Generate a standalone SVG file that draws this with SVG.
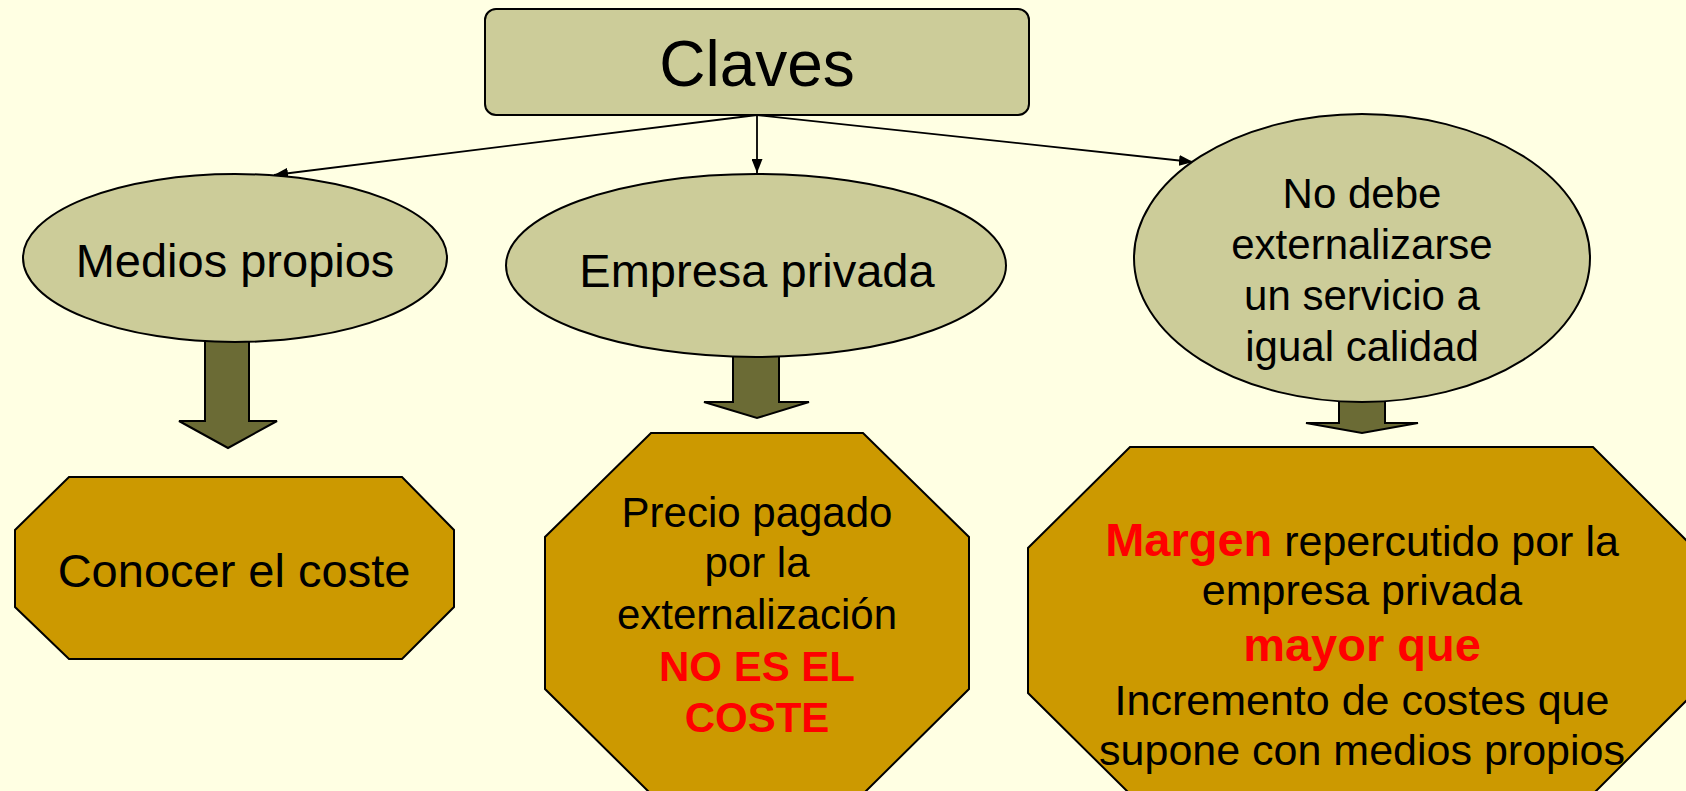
<svg xmlns="http://www.w3.org/2000/svg" width="1686" height="791" viewBox="0 0 1686 791">
<defs>
<marker id="ah" markerUnits="userSpaceOnUse" markerWidth="15" markerHeight="11" refX="14" refY="5.5" orient="auto">
<path d="M0,0 L14,5.5 L0,11 z" fill="#000"/>
</marker>
<style>
.t{font-family:"Liberation Sans",Arial,sans-serif;fill:#000;text-anchor:middle}
.r{fill:#FF0000;font-weight:bold}
.oval{fill:#CCCC99;stroke:#000;stroke-width:2}
.oct{fill:#CC9900;stroke:#000;stroke-width:2}
.blk{fill:#6B6B35;stroke:#000;stroke-width:2}
.con{stroke:#000;stroke-width:1.8;fill:none;marker-end:url(#ah)}
</style>
</defs>
<rect width="1686" height="791" fill="#FFFFE3"/>

<g id="connectors">
<line class="con" x1="757" y1="115" x2="274" y2="175"/>
<line class="con" x1="757" y1="115" x2="757" y2="173"/>
<line class="con" x1="757" y1="115" x2="1193" y2="162"/>
<polygon class="blk" points="205,335 249,335 249,421 277,421 228,448 179,421 205,421"/>
<polygon class="blk" points="733,350 779,350 779,402 809,402 757,418 704,402 733,402"/>
<polygon class="blk" points="1339,395 1385,395 1385,423 1418,423 1362,433 1306,423 1339,423"/>
</g>

<g id="claves">
<rect x="485" y="9" width="544" height="106" rx="11" fill="#CCCC99" stroke="#000" stroke-width="2"/>
<text class="t" x="757" y="86" font-size="64">Claves</text>
</g>

<g id="medios">
<ellipse class="oval" cx="235" cy="258" rx="212" ry="84"/>
<text class="t" x="235" y="277" font-size="47">Medios propios</text>
</g>

<g id="empresa">
<ellipse class="oval" cx="756" cy="265.5" rx="250" ry="91.5"/>
<text class="t" x="757" y="287" font-size="47">Empresa privada</text>
</g>

<g id="nodebe">
<ellipse class="oval" cx="1362" cy="258" rx="228" ry="144"/>
<text class="t" x="1362" y="208" font-size="42">No debe</text>
<text class="t" x="1362" y="259" font-size="42">externalizarse</text>
<text class="t" x="1362" y="310" font-size="42">un servicio a</text>
<text class="t" x="1362" y="361" font-size="42">igual calidad</text>
</g>

<g id="conocer">
<polygon class="oct" points="69,477 402,477 454,530 454,607 402,659 69,659 15,607 15,530"/>
<text class="t" x="234" y="587" font-size="47">Conocer el coste</text>
</g>

<g id="precio">
<polygon class="oct" points="651,433 863,433 969,537 969,689 863,794 651,794 545,689 545,537"/>
<text class="t" x="757" y="527" font-size="42">Precio pagado</text>
<text class="t" x="757" y="577" font-size="42">por la</text>
<text class="t" x="757" y="629" font-size="42">externalización</text>
<text class="t r" x="757" y="681" font-size="42">NO ES EL</text>
<text class="t r" x="757" y="732" font-size="42">COSTE</text>
</g>

<g id="margen">
<polygon class="oct" points="1130,447 1593,447 1694,548 1694,693 1593,794 1130,794 1028,693 1028,548"/>
<text class="t" x="1362" y="556" font-size="43"><tspan class="r" font-size="47">Margen</tspan> repercutido por la</text>
<text class="t" x="1362" y="605" font-size="43">empresa privada</text>
<text class="t r" x="1362" y="661" font-size="47">mayor que</text>
<text class="t" x="1362" y="715" font-size="43">Incremento de costes que</text>
<text class="t" x="1362" y="765" font-size="43">supone con medios propios</text>
</g>
</svg>
